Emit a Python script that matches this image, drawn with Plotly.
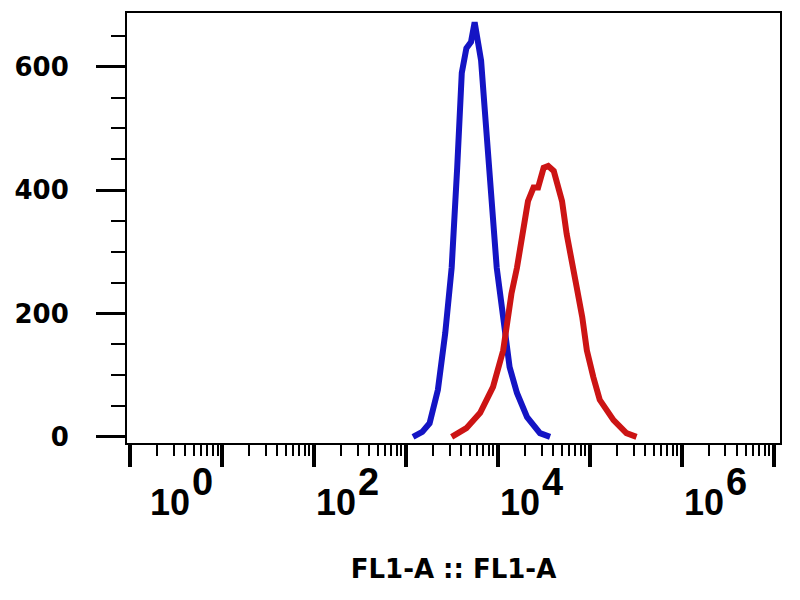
import plotly.graph_objects as go

# ---- data ----
blue_x = [1202, 1514, 1820, 2239, 2692, 3162, 3631, 4074, 4571, 5129, 5623, 6026,
          6607, 7244, 7943, 8710, 9772, 11482, 13490, 16218, 20893, 28840, 37154]
blue_y = [0, 8, 22, 76, 168, 274, 436, 590, 630, 640, 672, 640,
          610, 530, 455, 382, 274, 194, 113, 71, 32, 6, 0]

red_x = [3162, 4571, 6457, 8913, 11482, 14125, 16218, 19055, 21380, 24547, 27542,
         31623, 35481, 40738, 43652, 50119, 56234, 64565, 72444, 83176, 93325,
         109648, 128825, 181970, 251189, 323594]
red_y = [0, 14, 39, 81, 140, 232, 274, 339, 382, 404, 404,
         436, 439, 431, 415, 382, 329, 274, 242, 194, 140,
         97, 60, 27, 6, 0]

y_ticks = [0, 200, 400, 600]
x_decades = [1, 10, 100, 1000, 10000, 100000, 1000000, 10000000]
x_label_exps = [0, 2, 4, 6]
x_title = "FL1-A :: FL1-A"

# ---- figure ----
fig = go.Figure()
fig.add_trace(go.Scatter(x=blue_x, y=blue_y, mode="lines",
                         line=dict(color="#1414c4", width=6), showlegend=False))
fig.add_trace(go.Scatter(x=red_x, y=red_y, mode="lines",
                         line=dict(color="#cc1414", width=6), showlegend=False))

label_font = dict(family="Liberation Sans", size=36, color="black", weight="bold")
exp_font = dict(family="Liberation Sans", size=38, color="black", weight="bold")
for e in x_label_exps:
    shift = 18 if e == 0 else 0
    fig.add_annotation(x=e, xref="x", y=-0.139, yref="paper", text="10",
                       showarrow=False, xanchor="left", yanchor="middle",
                       xshift=shift, font=label_font)
    fig.add_annotation(x=e, xref="x", y=-0.09, yref="paper", text=str(e),
                       showarrow=False, xanchor="left", yanchor="middle",
                       xshift=shift + 42, font=exp_font)

# page body has an 8px margin: figure is sized/offset to compensate
fig.update_layout(
    width=792, height=592,
    margin=dict(l=119, r=20, t=3, b=157),
    paper_bgcolor="white", plot_bgcolor="white",
    xaxis=dict(
        type="log", range=[-0.03, 7.07],
        tickvals=x_decades, showticklabels=False,
        ticks="outside", ticklen=22, tickwidth=4, tickcolor="black",
        minor=dict(dtick="D1", ticks="outside", ticklen=11, tickwidth=2,
                   tickcolor="black", showgrid=False),
        showgrid=False, zeroline=False,
        showline=True, linecolor="black", linewidth=2, mirror=True,
        title=dict(text=x_title, standoff=94,
                   font=dict(family="DejaVu Sans", size=26, color="black", weight="bold")),
    ),
    yaxis=dict(
        range=[-10, 687],
        tickvals=y_ticks, ticktext=[str(v) for v in y_ticks],
        ticks="outside", ticklen=29, tickwidth=3, tickcolor="black",
        ticklabelstandoff=22,
        tickfont=dict(family="DejaVu Sans", size=26, color="black", weight="bold"),
        minor=dict(dtick=50, ticks="outside", ticklen=14, tickwidth=2,
                   tickcolor="black", showgrid=False),
        showgrid=False, zeroline=False,
        showline=True, linecolor="black", linewidth=2, mirror=True,
    ),
)

fig.write_html("out.html")
